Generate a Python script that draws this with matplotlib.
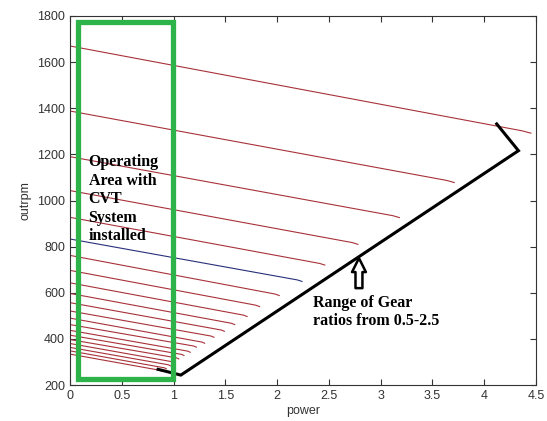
import numpy as np
import matplotlib
matplotlib.use("Agg")
import matplotlib.pyplot as plt
from matplotlib.patches import Rectangle

# one curve per gear ratio (0.5 ... 2.5)
ratios = [0.5, 0.6, 0.7, 0.8, 0.9, 1.0, 1.1, 1.2, 1.3, 1.4, 1.5,
          1.6, 1.7, 1.8, 1.9, 2.0, 2.1, 2.2, 2.3, 2.4, 2.5]
start_rpm = [1670, 1388, 1190, 1043, 927, 833, 762, 697, 643, 597, 557,
             521, 490, 462, 437, 416, 397, 380, 363, 348, 334]
end_power = [4.45, 3.71, 3.18, 2.78, 2.46, 2.24, 2.02, 1.83, 1.71, 1.59, 1.49,
             1.39, 1.30, 1.22, 1.16, 1.10, 1.05, 1.01, 0.97, 0.93, 0.89]
end_rpm = [1294, 1080, 928, 812, 722, 651, 590, 542, 499, 464, 435,
           409, 383, 366, 344, 330, 315, 298, 285, 272, 261]

# black boundary line (range of gear ratios)
edge_power = [0.85, 1.07, 4.33, 4.12]
edge_rpm = [268, 243, 1216, 1332]

plt.rcParams['font.family'] = ['Liberation Sans', 'DejaVu Sans']
fig = plt.figure(figsize=(5.47, 4.21), dpi=100)
ax = fig.add_axes([0.128, 0.0855, 0.852, 0.8765])

for r, y0, xe, ye in zip(ratios, start_rpm, end_power, end_rpm):
    col = '#27307a' if r == 1.0 else '#a8323a'
    # small droop at the end of each curve
    xs = [0, xe * 0.98, xe]
    ys = [y0, y0 + (ye - y0) * 0.98 + 1, ye - 2]
    ax.plot(xs, ys, color=col, lw=0.8)

ax.plot(edge_power, edge_rpm, color='black', lw=2.2, solid_joinstyle='miter')

rect = Rectangle((0.077, 226), 0.918, 1548, fill=False, ec='#2db34a', lw=3.8, zorder=5)
ax.add_patch(rect)

ax.text(0.18, 1200, "Operating\nArea with\nCVT\nSystem\ninstalled", family='Liberation Serif',
        fontweight='bold', fontsize=11.5, va='top', ha='left', linespacing=1.2, zorder=6)
ax.text(2.35, 590, "Range of Gear\nratios from 0.5-2.5", family='Liberation Serif',
        fontweight='bold', fontsize=11.5, va='top', ha='left', linespacing=1.2)
ax.annotate('', xy=(2.79, 750), xytext=(2.79, 620),
            arrowprops=dict(arrowstyle='simple,head_width=1.0,head_length=1.0,tail_width=0.5',
                            fc='white', ec='black', lw=1.8, shrinkA=0, shrinkB=0))

ax.set_xlim(0, 4.5)
ax.set_ylim(200, 1800)
ax.set_xticks(np.arange(0, 4.51, 0.5))
ax.set_xticklabels(['0', '0.5', '1', '1.5', '2', '2.5', '3', '3.5', '4', '4.5'])
ax.set_yticks(np.arange(200, 1801, 200))
ax.tick_params(direction='in', top=True, right=True, labelsize=9, colors='#333333', length=4)
for s in ax.spines.values():
    s.set_color('#333333')
ax.set_xlabel('power', fontsize=9, color='#333333', labelpad=2)
ax.set_ylabel('outrpm', fontsize=9, color='#333333', labelpad=4)

fig.savefig('out.png', dpi=100)
